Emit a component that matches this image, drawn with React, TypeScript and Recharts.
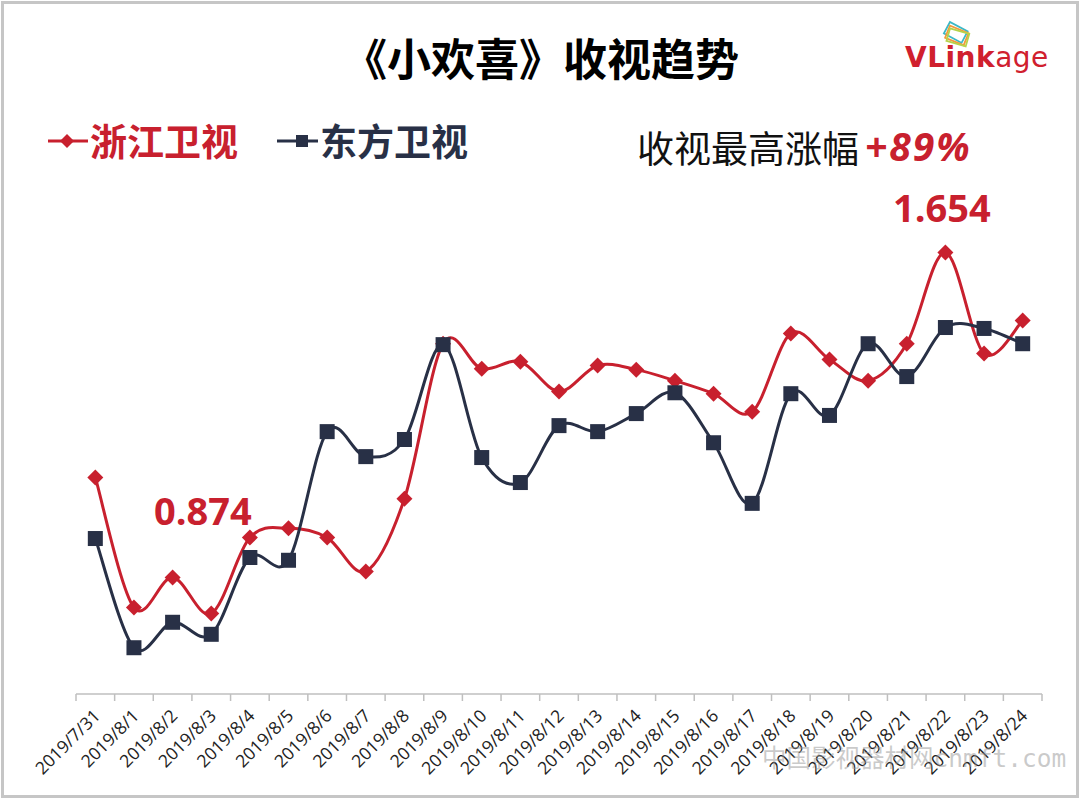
import { LineChart, Line, XAxis, YAxis } from "recharts";

const dates = [
  "2019/7/31", "2019/8/1", "2019/8/2", "2019/8/3", "2019/8/4", "2019/8/5", "2019/8/6",
  "2019/8/7", "2019/8/8", "2019/8/9", "2019/8/10", "2019/8/11", "2019/8/12", "2019/8/13",
  "2019/8/14", "2019/8/15", "2019/8/16", "2019/8/17", "2019/8/18", "2019/8/19", "2019/8/20",
  "2019/8/21", "2019/8/22", "2019/8/23", "2019/8/24",
];
const zhejiang = [
  1.168, 0.887, 0.952, 0.874, 1.038, 1.058, 1.038, 0.965, 1.122, 1.457, 1.403, 1.418, 1.354,
  1.41, 1.401, 1.377, 1.349, 1.31, 1.479, 1.423, 1.377, 1.457, 1.654, 1.436, 1.507,
];
const dongfang = [
  1.036, 0.8, 0.855, 0.829, 0.995, 0.989, 1.267, 1.213, 1.25, 1.455, 1.211, 1.157, 1.28,
  1.267, 1.306, 1.351, 1.243, 1.112, 1.349, 1.302, 1.457, 1.386, 1.492, 1.49, 1.457,
];

const RED = "#C8202E";
const NAVY = "#283046";
const BAND = (1042 - 76) / dates.length;

const data = dates.map((d, i) => ({ date: d, zj: zhejiang[i], df: dongfang[i] }));

// Excel-like smoothing (Catmull-Rom through the points)
function smoothCurve(context: any) {
  let pts: number[][] = [];
  return {
    areaStart() {},
    areaEnd() {},
    lineStart() {
      pts = [];
    },
    point(x: number, y: number) {
      pts.push([+x, +y]);
    },
    lineEnd() {
      if (!pts.length) return;
      context.moveTo(pts[0][0], pts[0][1]);
      for (let i = 0; i < pts.length - 1; i++) {
        const p0 = pts[i - 1] || pts[i];
        const p1 = pts[i];
        const p2 = pts[i + 1];
        const p3 = pts[i + 2] || p2;
        context.bezierCurveTo(
          p1[0] + (p2[0] - p0[0]) / 6,
          p1[1] + (p2[1] - p0[1]) / 6,
          p2[0] - (p3[0] - p1[0]) / 6,
          p2[1] - (p3[1] - p1[1]) / 6,
          p2[0],
          p2[1]
        );
      }
    },
  };
}

function DiamondDot(props: any) {
  const { cx, cy } = props;
  const r = 8;
  return (
    <polygon
      points={`${cx},${cy - r} ${cx + r},${cy} ${cx},${cy + r} ${cx - r},${cy}`}
      fill={RED}
    />
  );
}

function SquareDot(props: any) {
  const { cx, cy } = props;
  const s = 15;
  return <rect x={cx - s / 2} y={cy - s / 2} width={s} height={s} fill={NAVY} />;
}

function DateTick(props: any) {
  const { x, y, payload, index } = props;
  const axisY = y - 8;
  const lx = x + 6;
  const ly = y + 15;
  return (
    <g>
      <line x1={x - BAND / 2} x2={x - BAND / 2} y1={axisY} y2={axisY + 7} stroke="#bfbfbf" strokeWidth={1.5} />
      {index === dates.length - 1 && (
        <line x1={x + BAND / 2} x2={x + BAND / 2} y1={axisY} y2={axisY + 7} stroke="#bfbfbf" strokeWidth={1.5} />
      )}
      <text
        x={lx}
        y={ly}
        textAnchor="end"
        fontSize={17.5}
        fill="#222"
        fontFamily='"Open Sans", sans-serif'
        transform={`rotate(-45, ${lx}, ${ly})`}
      >
        {payload.value}
      </text>
    </g>
  );
}

const abs = (left: number, top: number, extra: any = {}) => ({
  position: "absolute" as const,
  left,
  top,
  lineHeight: 1,
  whiteSpace: "nowrap" as const,
  ...extra,
});

export default function App() {
  return (
    <div
      style={{
        position: "absolute",
        left: 0,
        top: 0,
        width: 1080,
        height: 799,
        background: "#fff",
        overflow: "hidden",
        fontFamily: '"Noto Sans CJK SC", "Noto Sans", sans-serif',
      }}
    >
      <div style={{ position: "absolute", left: 0, top: 0 }}>
        <LineChart width={1080} height={799} data={data} margin={{ top: 185, right: 38, bottom: 0, left: 76 }}>
          <YAxis hide domain={[0.7, 1.8]} />
          <XAxis
            dataKey="date"
            scale="band"
            interval={0}
            height={105}
            tickSize={8}
            tickMargin={0}
            tickLine={false}
            axisLine={{ stroke: "#bfbfbf", strokeWidth: 1.5 }}
            tick={<DateTick />}
          />
          <Line
            dataKey="zj"
            stroke={RED}
            strokeWidth={3}
            type={smoothCurve as any}
            dot={(p: any) => <DiamondDot key={`zj-${p.index}`} {...p} />}
            activeDot={false}
            isAnimationActive={false}
          />
          <Line
            dataKey="df"
            stroke={NAVY}
            strokeWidth={3}
            type={smoothCurve as any}
            dot={(p: any) => <SquareDot key={`df-${p.index}`} {...p} />}
            activeDot={false}
            isAnimationActive={false}
          />
        </LineChart>
      </div>

      <div style={abs(343, 35, { fontSize: 44, fontWeight: 700, color: "#000" })}>《小欢喜》收视趋势</div>

      {/* legend */}
      <svg style={{ position: "absolute", left: 44, top: 130 }} width={50} height={22}>
        <line x1={4} x2={44} y1={11} y2={11} stroke={RED} strokeWidth={3} />
        <polygon points="23,4 30,11 23,18 16,11" fill={RED} />
      </svg>
      <div style={abs(90, 122, { fontSize: 37, fontWeight: 700, color: RED })}>浙江卫视</div>
      <svg style={{ position: "absolute", left: 274, top: 130 }} width={50} height={22}>
        <line x1={3} x2={44} y1={11} y2={11} stroke={NAVY} strokeWidth={3} />
        <rect x={22} y={5} width={12} height={12} fill={NAVY} />
      </svg>
      <div style={abs(320, 122, { fontSize: 37, fontWeight: 700, color: NAVY })}>东方卫视</div>

      <div style={abs(637, 129, { fontSize: 37, color: "#111" })}>收视最高涨幅</div>
      <div
        style={abs(865, 126, {
          fontSize: 39,
          fontWeight: 700,
          fontStyle: "italic",
          letterSpacing: 2,
          color: RED,
          fontFamily: '"Open Sans", sans-serif',
        })}
      >
        +89%
      </div>

      <div style={abs(893, 188, { fontSize: 38, fontWeight: 700, color: RED, fontFamily: '"Open Sans", sans-serif' })}>
        1.654
      </div>
      <div style={abs(154, 491, { fontSize: 38, fontWeight: 700, color: RED, fontFamily: '"Open Sans", sans-serif' })}>
        0.874
      </div>

      {/* logo */}
      <svg style={{ position: "absolute", left: 938, top: 20 }} width={36} height={30}>
        <g fill="none" strokeWidth={1.8}>
          <rect x={8} y={6} width={20} height={13} stroke="#3CB8C6" transform="rotate(28 18 12)" />
          <rect x={9} y={9} width={20} height={13} stroke="#F29A3A" transform="rotate(22 19 15)" />
          <rect x={10} y={11} width={20} height={13} stroke="#B6D24A" transform="rotate(16 20 17)" />
        </g>
      </svg>
      <div style={abs(905, 44, { fontSize: 28, letterSpacing: 0.5, color: "#D0202E", fontFamily: '"DejaVu Sans", sans-serif' })}>
        <span style={{ fontWeight: 700 }}>VLink</span>
        <span>age</span>
      </div>

      {/* watermark */}
      <div style={abs(762, 745, { fontSize: 24.5, color: "rgba(150,150,150,0.5)" })}>
        中国影视器材网<span style={{ fontFamily: '"DejaVu Sans Mono", monospace' }}>cnmft.com</span>
      </div>

      <div
        style={{
          position: "absolute",
          left: 1,
          top: 1,
          width: 1078,
          height: 797,
          boxSizing: "border-box",
          border: "3px solid #c6c6c6",
          pointerEvents: "none",
        }}
      />
    </div>
  );
}
